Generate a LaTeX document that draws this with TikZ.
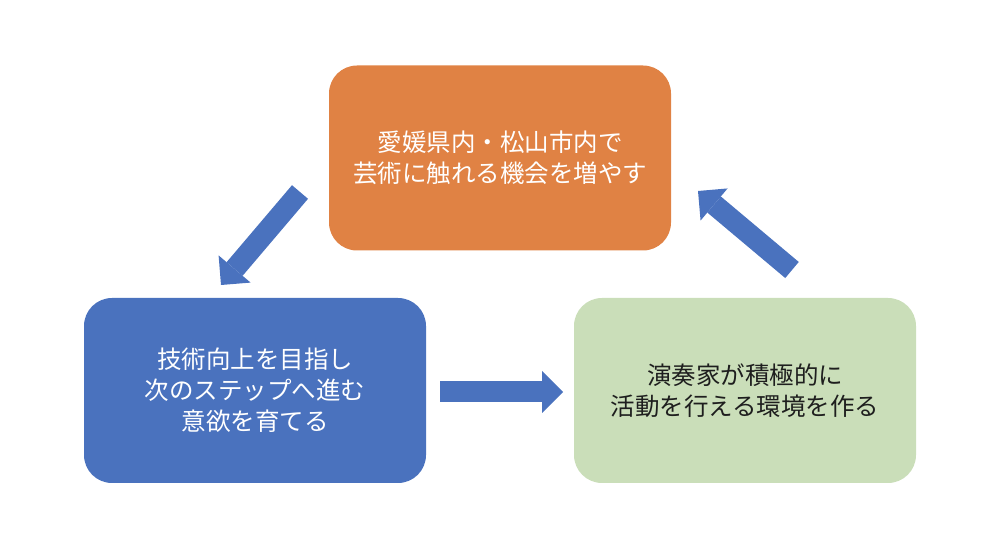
\documentclass[tikz,border=0pt]{standalone}
\usepackage{fontspec}
\setmainfont{Noto Sans CJK JP}
\usepackage{tikz}
\usetikzlibrary{arrows.meta}
\usepackage{xcolor}
\definecolor{cycleorange}{RGB}{224,130,68}
\definecolor{cycleblue}{RGB}{74,114,190}
\definecolor{cyclegreen}{RGB}{202,222,185}
\definecolor{darktext}{RGB}{30,30,30}
\tikzset{
    goalbox/.style={
        rounded corners=28pt,
        minimum width=342pt,
        minimum height=185pt,
        align=center,
        font=\fontsize{24.5}{31}\selectfont,
    },
    blockarrow/.style={
        draw=cycleblue,
        line width=21pt,
        -{Triangle[length=21pt,width=42pt,line width=0pt]},
    },
}

\begin{document}
\begin{tikzpicture}[x=1pt, y=1pt]
    \useasboundingbox (0,0) rectangle (1002,552);
    % Top box, orange
    \node[goalbox, fill=cycleorange, text=white] (arts) at (500,394)
      {愛媛県内・松山市内で\\芸術に触れる機会を増やす};
    % Left box, blue
    \node[goalbox, fill=cycleblue, text=white] (skill) at (255,161.5)
      {技術向上を目指し\\次のステップへ進む\\意欲を育てる};
    % Right box, light green
    \node[goalbox, fill=cyclegreen, text=darktext] (stage) at (745,161.5)
      {演奏家が積極的に\\活動を行える環境を作る};

    % Block arrows between the boxes
    \coordinate (artsout) at (300,360);
    \coordinate (skillin) at (221,267);
    \coordinate (skillout) at (440,160);
    \coordinate (stagein) at (563,160);
    \coordinate (stageout) at (792,282);
    \coordinate (artsin) at (698,361);
    \draw[blockarrow] (artsout) -- (skillin);
    \draw[blockarrow] (skillout) -- (stagein);
    \draw[blockarrow] (stageout) -- (artsin);
\end{tikzpicture}
\end{document}
